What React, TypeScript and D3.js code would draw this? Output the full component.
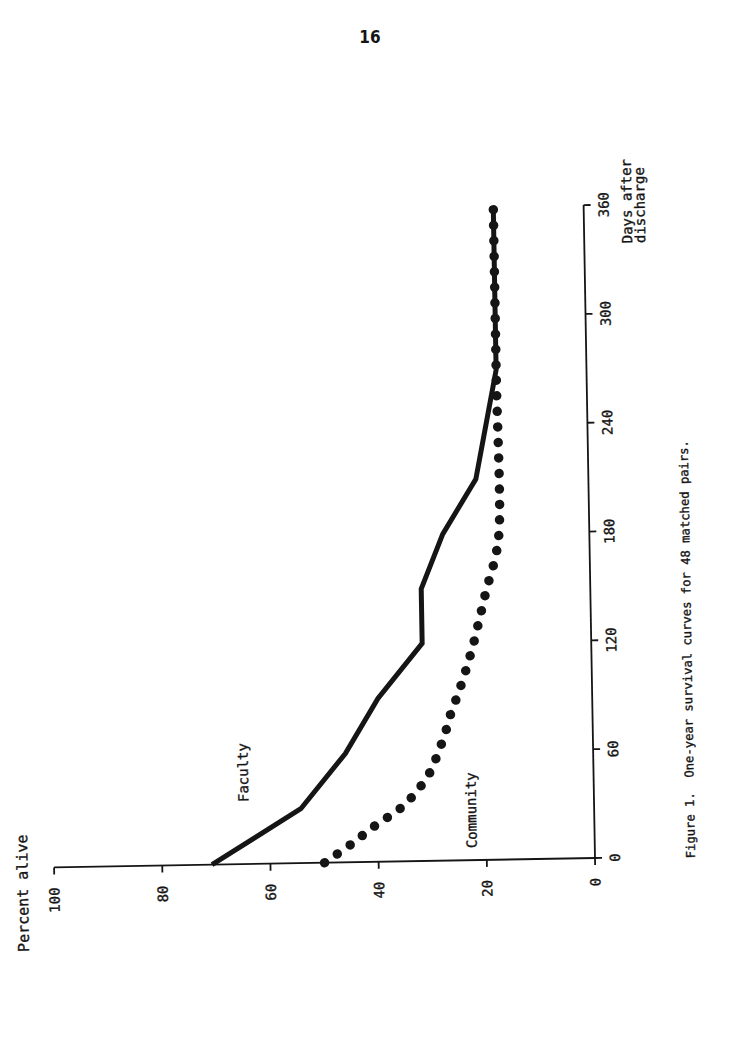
import React from 'react';
import * as d3 from 'd3';

// Axis ticks
const percentTicks = [0, 20, 40, 60, 80, 100];
const dayTicks = [0, 60, 120, 180, 240, 300, 360];

// Faculty survival (percent alive by days after discharge)
const facultyDays = [0, 30, 60, 90, 120, 150, 180, 210, 240, 270, 360];
const facultyPct = [70.8, 54.2, 45.8, 39.6, 31.25, 31.25, 27.1, 20.8, 18.75, 16.7, 16.7];

// Community survival
const communityDays = [0, 10, 20, 30, 40, 50, 60, 70, 80, 90, 100, 110, 120, 135, 150, 165, 180, 270, 360];
const communityPct = [50, 45, 40.5, 35.5, 32.3, 30, 28.6, 27.3, 26.3, 25.0, 23.8, 22.7, 21.7, 20.4, 19.1, 17.6, 16.7, 16.7, 16.7];

const FONT = "'DejaVu Sans Mono', 'Liberation Mono', monospace";
const INK = '#151515';

// typewriter-like text: slightly heavier strokes
const textStyle = { stroke: INK, strokeWidth: 0.35 } as const;

export default function App() {
  const W = 739;
  const H = 1044;
  // origin of the axes on the page; the whole figure is turned on its side
  const ox = 595;
  const oy = 858;

  const pct = d3.scaleLinear().domain([0, 100]).range([ox, 54]);
  const day = d3.scaleLinear().domain([0, 360]).range([oy, 205]);

  const line = d3
    .line<[number, number]>()
    .x((d) => pct(d[1]))
    .y((d) => day(d[0]));

  const faculty: [number, number][] = facultyDays.map((d, i) => [d, facultyPct[i]]);
  const community: [number, number][] = communityDays.map((d, i) => [d, communityPct[i]]);

  const facultyPath = line.curve(d3.curveLinear)(faculty) || '';
  const communityPath = line.curve(d3.curveCatmullRom)(community) || '';

  const tickLen = 7;

  return (
    <svg
      width={W}
      height={H}
      viewBox={`0 0 ${W} ${H}`}
      style={{ position: 'absolute', left: 0, top: 0, background: '#fff' }}
    >
      <rect x={0} y={0} width={W} height={H} fill="#fff" />
      <text x={370} y={43} fontFamily="'DejaVu Sans Condensed', 'DejaVu Sans', sans-serif" fontSize={17} fontWeight="bold" textAnchor="middle" fill={INK}>
        16
      </text>

      <g transform={`rotate(-1, ${ox}, ${oy})`}>
        {/* percent axis */}
        <line x1={pct(100)} y1={oy} x2={pct(0)} y2={oy} stroke={INK} strokeWidth={1.8} />
        {percentTicks.map((t) => (
          <g key={`p${t}`}>
            <line x1={pct(t)} y1={oy} x2={pct(t)} y2={oy + tickLen} stroke={INK} strokeWidth={1.8} />
            <text
              transform={`translate(${pct(t) + 5}, ${oy + 20}) rotate(-90)`}
              textAnchor="end"
              fontFamily={FONT}
              fontSize={14}
              fill={INK}
              style={textStyle}
            >
              {t}
            </text>
          </g>
        ))}
        <text
          transform={`translate(27.5, 942) rotate(-90)`}
          textAnchor="start"
          fontFamily={FONT}
          fontSize={15}
          fill={INK}
          style={textStyle}
        >
          Percent alive
        </text>

        {/* days axis */}
        <line x1={ox} y1={day(0)} x2={ox} y2={day(360)} stroke={INK} strokeWidth={1.8} />
        {dayTicks.map((t) => (
          <g key={`d${t}`}>
            <line x1={ox} y1={day(t)} x2={ox + tickLen} y2={day(t)} stroke={INK} strokeWidth={1.8} />
            <text
              transform={`translate(${ox + 25}, ${day(t)}) rotate(-90)`}
              textAnchor="middle"
              fontFamily={FONT}
              fontSize={14}
              fill={INK}
              style={textStyle}
            >
              {t}
            </text>
          </g>
        ))}
        <text transform={`translate(643, 244) rotate(-90)`} textAnchor="start" fontFamily={FONT} fontSize={14} fill={INK} style={textStyle}>
          Days after
        </text>
        <text transform={`translate(656, 244) rotate(-90)`} textAnchor="start" fontFamily={FONT} fontSize={14} fill={INK} style={textStyle}>
          discharge
        </text>

        {/* survival curves */}
        <path d={facultyPath} fill="none" stroke={INK} strokeWidth={5} strokeLinejoin="miter" />
        <path
          d={communityPath}
          fill="none"
          stroke={INK}
          strokeWidth={9.5}
          strokeLinecap="round"
          strokeDasharray="0 15.5"
        />

        <text transform={`translate(249.5, 796) rotate(-90)`} textAnchor="start" fontFamily={FONT} fontSize={14} fill={INK} style={textStyle}>
          Faculty
        </text>
        <text transform={`translate(477, 846) rotate(-90)`} textAnchor="start" fontFamily={FONT} fontSize={14} fill={INK} style={textStyle}>
          Community
        </text>

        <text
          transform={`translate(695, 860) rotate(-90)`}
          textAnchor="start"
          fontFamily={FONT}
          fontSize={12.2}
          fill={INK}
          style={{ ...textStyle, whiteSpace: 'pre' }}
        >
          {'Figure 1.  One-year survival curves for 48 matched pairs.'}
        </text>
      </g>
    </svg>
  );
}
